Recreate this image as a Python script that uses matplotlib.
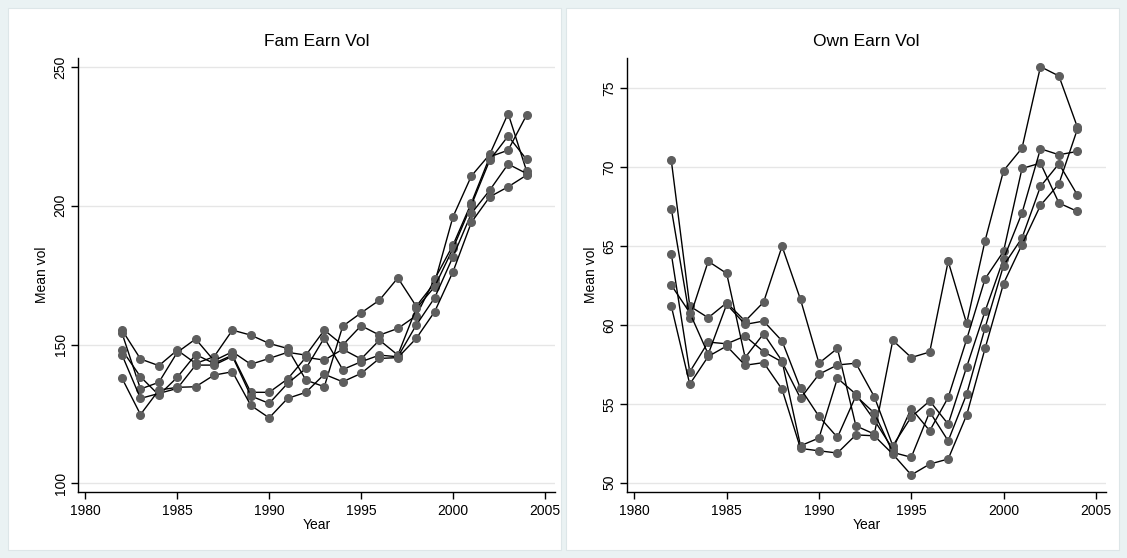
import matplotlib
matplotlib.use("Agg")
import matplotlib.pyplot as plt
from matplotlib.patches import Rectangle

plt.rcParams['font.family'] = ['Liberation Sans', 'DejaVu Sans']

years = list(range(1982, 2005))

# Fam Earn Vol (left panel)
fam_s1 = [155.2, 144.8, 142.4, 148.0, 143.2, 145.6, 155.2, 153.4, 150.4, 148.6, 137.2, 134.8,
          156.6, 161.4, 166.0, 174.0, 163.8, 172.2, 196.0, 210.7, 218.5, 233.2, 212.6]
fam_s2 = [154.0, 134.0, 136.4, 147.2, 152.0, 144.2, 147.4, 142.9, 145.0, 147.2, 146.2, 155.2,
          149.8, 156.8, 153.4, 155.8, 160.4, 173.5, 185.8, 201.0, 217.6, 220.0, 232.6]
fam_s3 = [148.0, 138.4, 131.8, 138.2, 146.4, 143.2, 146.2, 132.8, 132.8, 137.6, 145.4, 144.4,
          148.3, 144.8, 151.6, 146.2, 163.0, 170.8, 184.6, 200.2, 216.4, 225.1, 216.7]
fam_s4 = [146.2, 130.6, 132.4, 134.2, 142.6, 142.6, 145.8, 131.5, 128.8, 136.0, 141.4, 152.4,
          141.0, 143.8, 146.2, 145.6, 157.0, 166.8, 181.6, 197.2, 205.6, 215.0, 211.6]
fam_s5 = [137.8, 124.8, 133.6, 134.6, 134.8, 139.0, 140.2, 128.1, 123.6, 130.6, 132.8, 139.3,
          136.6, 139.6, 145.0, 145.3, 152.2, 161.8, 176.2, 194.0, 203.2, 206.8, 211.0]

# Own Earn Vol (right panel)
own_s1 = [70.42, 61.19, 60.45, 61.40, 60.24, 61.44, 64.98, 61.61, 57.57, 58.51, 53.60, 53.08,
          59.02, 57.93, 58.28, 64.03, 60.09, 65.34, 69.77, 71.20, 76.36, 75.77, 72.53]
own_s2 = [67.36, 60.45, 64.03, 63.26, 57.93, 59.44, 57.71, 52.34, 52.83, 56.62, 55.61, 53.96,
          52.13, 54.70, 53.29, 55.40, 59.08, 62.92, 64.66, 69.91, 70.25, 67.72, 67.19]
own_s3 = [64.50, 57.02, 58.91, 58.80, 59.29, 58.30, 57.65, 55.35, 56.87, 57.46, 57.57, 55.44,
          52.34, 54.17, 55.18, 53.71, 57.33, 60.87, 64.18, 67.09, 71.16, 70.78, 70.99]
own_s4 = [62.52, 60.77, 58.14, 61.30, 60.03, 60.24, 58.98, 55.97, 54.20, 52.87, 55.50, 54.41,
          51.92, 51.61, 54.49, 52.65, 55.61, 59.82, 63.76, 65.51, 68.77, 70.21, 68.23]
own_s5 = [61.19, 56.24, 58.00, 58.66, 57.44, 57.61, 55.92, 52.17, 52.02, 51.88, 53.03, 52.97,
          51.81, 50.49, 51.18, 51.50, 54.28, 58.51, 62.62, 65.09, 67.57, 68.94, 72.40]

fam_series = [fam_s1, fam_s2, fam_s3, fam_s4, fam_s5]
own_series = [own_s1, own_s2, own_s3, own_s4, own_s5]

W, H = 1127, 558
fig = plt.figure(figsize=(W / 100, H / 100), dpi=100)
fig.patch.set_facecolor('#EAF2F3')

# white panel backgrounds
for x0, x1 in [(8, 561), (566, 1119)]:
    r = Rectangle((x0 / W, 8 / H), (x1 - x0) / W, (550 - 8) / H,
                  transform=fig.transFigure, facecolor='white',
                  edgecolor='#DDE6E8', linewidth=0.8, zorder=-10)
    fig.add_artist(r)


def make_panel(left_px, right_px, series, title, ylim, yticks):
    ax = fig.add_axes([left_px / W, (H - 492) / H, (right_px - left_px) / W, (492 - 58) / H])
    ax.set_zorder(5)
    ax.set_facecolor('white')
    for s in series:
        ax.plot(years, s, color='black', linewidth=1.0, zorder=3,
                marker='o', markersize=5.5, markerfacecolor='#5E5E5E',
                markeredgecolor='#5E5E5E')
    ax.set_xlim(1979.6, 2005.55)
    ax.set_ylim(*ylim)
    ax.set_xticks([1980, 1985, 1990, 1995, 2000, 2005])
    ax.set_yticks(yticks)
    ax.grid(axis='y', color='#E6E6E6', linewidth=1.0, zorder=0)
    ax.set_axisbelow(True)
    for sp in ['top', 'right']:
        ax.spines[sp].set_visible(False)
    for sp in ['left', 'bottom']:
        ax.spines[sp].set_linewidth(1.0)
        ax.spines[sp].set_color('black')
    ax.tick_params(axis='both', direction='out', length=5, width=1.0, labelsize=10,
                   colors='black')
    ax.tick_params(axis='y', pad=2.5)
    for lab in ax.get_yticklabels():
        lab.set_rotation(90)
        lab.set_va('center')
    ax.set_xlabel('Year', fontsize=10, labelpad=0)
    ax.set_ylabel('Mean vol', fontsize=10, labelpad=3)
    ax.set_title(title, fontsize=12.5, pad=9)
    return ax


make_panel(78, 555, fam_series, 'Fam Earn Vol', (96.9, 253.2), [100, 150, 200, 250])
make_panel(627, 1106, own_series, 'Own Earn Vol', (49.41, 76.91), [50, 55, 60, 65, 70, 75])

fig.savefig('out.png', dpi=100, facecolor=fig.get_facecolor())
